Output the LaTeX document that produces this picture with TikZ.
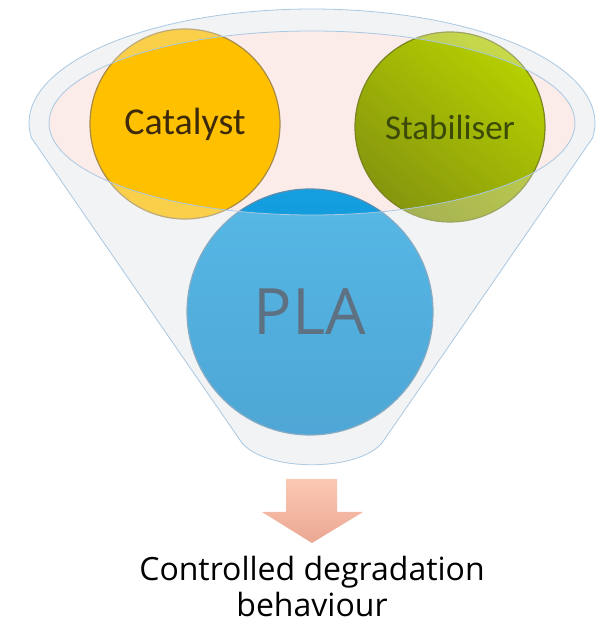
\documentclass[tikz,border=0pt]{standalone}
\usepackage{fontspec}
\setmainfont{Open Sans}
\newfontfamily\ballfont{Carlito}
\usepackage{tikz}
\usetikzlibrary{shapes,positioning}
\definecolor{funnelGray}{HTML}{F1F3F5}
\definecolor{funnelPink}{HTML}{FCECE9}
\definecolor{funnelLine}{HTML}{A9C8E2}
\definecolor{catFill}{HTML}{FFC000}
\definecolor{catEdge}{HTML}{A88A48}
\definecolor{catText}{HTML}{3C2A0A}
\definecolor{stabLight}{HTML}{B6D000}
\definecolor{stabDark}{HTML}{86960E}
\definecolor{stabEdge}{HTML}{7A8420}
\definecolor{stabText}{HTML}{3B4A08}
\definecolor{plaTop}{HTML}{149FE0}
\definecolor{plaBottom}{HTML}{0886C8}
\definecolor{plaEdge}{HTML}{5A8CAE}
\definecolor{plaText}{HTML}{1E3A52}
\definecolor{arrowTop}{HTML}{FBC9B4}
\definecolor{arrowBottom}{HTML}{EBA792}
\tikzstyle{ball} = [
  circle,
  draw,
  line width=1.2pt,
  inner sep=0pt,
  align=center,
  %minimum size=190pt
  ]
\tikzstyle{funnelEdge} = [draw=funnelLine, line width=0.8pt]
\newcommand{\funnelPath}{(31.5,486)
  arc[start angle=187.56, end angle=-7.56, x radius=283pt, y radius=114pt]
  -- (382,181) .. controls (357,152) and (267,152) .. (242,181) -- cycle}
\newcommand{\mouth}{(312,501) ellipse [x radius=263pt, y radius=92pt]}

\begin{document}
\begin{tikzpicture}[x=1pt, y=1pt]
  \useasboundingbox (0,0) rectangle (597,624);

  \fill[funnelGray] \funnelPath;
  \fill[funnelPink] \mouth;

  \node[ball, minimum size=246pt, draw=plaEdge, top color=plaTop,
    bottom color=plaBottom] (pla) at (310,312)
    {\fontsize{64}{64}\selectfont\color{plaText}PLA};
  \node[ball, minimum size=190pt, draw=catEdge, fill=catFill] (catalyst)
    at (185,500) {\ballfont\fontsize{38}{38}\selectfont\color{catText}Catalyst};
  \node[ball, minimum size=190pt, draw=stabEdge, top color=stabLight,
    bottom color=stabDark, shading angle=-40] (stabiliser) at (450,497)
    {\ballfont\fontsize{35}{35}\selectfont\color{stabText}Stabiliser};

  \fill[funnelGray, fill opacity=0.3, even odd rule] \funnelPath \mouth;
  \draw[funnelEdge] \funnelPath;
  \draw[funnelEdge] \mouth;

  \shade[top color=arrowTop, bottom color=arrowBottom]
    (286,145) -- (337,145) -- (337,112) -- (363,112) -- (312,81)
    -- (262,112) -- (286,112) -- cycle;

  \node[align=center, anchor=base, inner sep=0pt,
    font=\fontsize{32}{36}\selectfont]
    (result) at (312,7) {Controlled degradation\\behaviour};

\end{tikzpicture}
\end{document}
